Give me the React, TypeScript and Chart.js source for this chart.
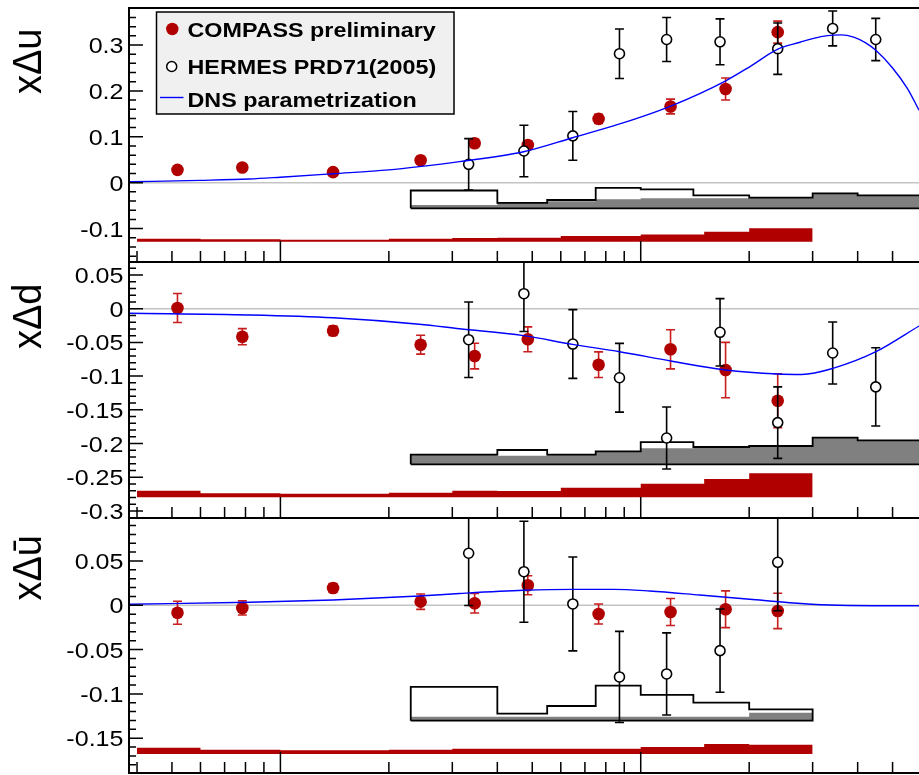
import React, { useEffect, useRef } from 'react';
import { Chart, registerables } from 'chart.js';

Chart.register(...registerables);

// ---------- axis ranges ----------
const X_MIN = 0.0038;
const X_MAX = 0.592;

// ---------- COMPASS (preliminary) ----------
const COMPASS_X = [0.00518, 0.00784, 0.014, 0.0245, 0.0346, 0.0486, 0.0764, 0.121, 0.172, 0.24];
const COMPASS_BINS = [0.004, 0.006, 0.01, 0.02, 0.03, 0.04, 0.06, 0.1, 0.15, 0.2, 0.3];

const COMPASS_U = [0.028, 0.033, 0.023, 0.049, 0.086, 0.082, 0.139, 0.166, 0.204, 0.328];
const COMPASS_U_ERR = [0.008, 0.008, 0.007, 0.008, 0.009, 0.009, 0.01, 0.016, 0.024, 0.024];
const COMPASS_U_SYS = [0.0065, 0.005, 0.0043, 0.0065, 0.008, 0.0087, 0.0124, 0.0157, 0.0217, 0.0292];
const COMPASS_U_SYS_BASE = -0.1285;

const COMPASS_D = [0.001, -0.0415, -0.0326, -0.0534, -0.0702, -0.0454, -0.0831, -0.0602, -0.091, -0.1365];
const COMPASS_D_ERR = [0.0215, 0.012, 0.007, 0.014, 0.019, 0.0185, 0.019, 0.029, 0.041, 0.04];
const COMPASS_D_SYS = [0.0098, 0.0059, 0.0053, 0.0068, 0.0098, 0.0093, 0.0142, 0.0202, 0.0271, 0.0356];
const COMPASS_D_SYS_BASE = -0.2798;

const COMPASS_UBAR = [-0.0084, -0.003, 0.0195, 0.0041, 0.0023, 0.0226, -0.0098, -0.0076, -0.0045, -0.0064];
const COMPASS_UBAR_ERR = [0.013, 0.008, 0.005, 0.0087, 0.011, 0.0107, 0.0113, 0.0152, 0.0207, 0.02];
const COMPASS_UBAR_SYS = [0.0071, 0.0048, 0.0041, 0.0048, 0.006, 0.006, 0.006, 0.0079, 0.0113, 0.0105];
const COMPASS_UBAR_SYS_BASE = -0.1678;

// ---------- HERMES PRD71(2005) ----------
const HERMES_X = [0.0333, 0.0474, 0.0648, 0.0873, 0.118, 0.166, 0.24, 0.341, 0.449];
const HERMES_BINS = [0.023, 0.04, 0.055, 0.075, 0.1, 0.14, 0.2, 0.3, 0.4, 0.6];

const HERMES_U = [0.04, 0.069, 0.102, 0.281, 0.312, 0.307, 0.292, 0.336, 0.312];
const HERMES_U_ERR = [0.056, 0.056, 0.053, 0.054, 0.048, 0.05, 0.056, 0.038, 0.046];
const HERMES_U_SYS_TOTAL = [0.0388, 0.0118, 0.0181, 0.0443, 0.0414, 0.0283, 0.0231, 0.0327, 0.0283];
const HERMES_U_SYS_PART = [0.0072, 0.0118, 0.0153, 0.0196, 0.0218, 0.0218, 0.0231, 0.0327, 0.0283];
const HERMES_U_SYS_BASE = -0.0558;

const HERMES_D = [-0.046, 0.0223, -0.0524, -0.1024, -0.1918, -0.035, -0.169, -0.0657, -0.116];
const HERMES_D_ERR = [0.056, 0.056, 0.051, 0.051, 0.046, 0.05, 0.053, 0.046, 0.058];
const HERMES_D_SYS_TOTAL = [0.0143, 0.0213, 0.0143, 0.0193, 0.0331, 0.0257, 0.0272, 0.0395, 0.0356];
const HERMES_D_SYS_PART = [0.0143, 0.0128, 0.0143, 0.0193, 0.0238, 0.0257, 0.0272, 0.0395, 0.0356];
const HERMES_D_SYS_BASE = -0.2309;

const HERMES_UBAR_X = [0.0333, 0.0474, 0.0648, 0.0873, 0.118, 0.166, 0.24];
const HERMES_UBAR = [0.0587, 0.0379, 0.0015, -0.0809, -0.0775, -0.0512, 0.0485];
const HERMES_UBAR_ERR = [0.059, 0.057, 0.053, 0.0514, 0.0463, 0.047, 0.0546];
const HERMES_UBAR_SYS_TOTAL = [0.038, 0.0078, 0.0165, 0.0395, 0.029, 0.0203, 0.0128];
const HERMES_UBAR_SYS_PART = [0.0045, 0.0045, 0.0045, 0.0045, 0.0045, 0.0045, 0.009];
const HERMES_UBAR_SYS_BASE = -0.1302;

// ---------- DNS parametrization ----------
const DNS_U_X = [0.0038, 0.006, 0.0082, 0.01, 0.014, 0.02, 0.0243, 0.0314, 0.0473, 0.0647, 0.0874, 0.1212, 0.1722, 0.201, 0.2402, 0.277, 0.3, 0.33, 0.36, 0.39, 0.42, 0.45, 0.5, 0.55, 0.592];
const DNS_U = [0.002, 0.005, 0.008, 0.012, 0.0196, 0.028, 0.035, 0.046, 0.0675, 0.098, 0.128, 0.167, 0.222, 0.253, 0.291, 0.306, 0.314, 0.3205, 0.322, 0.317, 0.305, 0.288, 0.25, 0.205, 0.158];

const DNS_D_X = [0.0038, 0.0082, 0.014, 0.0243, 0.0314, 0.0473, 0.0647, 0.0874, 0.1212, 0.1722, 0.2402, 0.28, 0.3415, 0.4497, 0.592];
const DNS_D = [-0.0068, -0.0093, -0.0135, -0.023, -0.0297, -0.04, -0.0529, -0.0638, -0.0776, -0.091, -0.0969, -0.0975, -0.0885, -0.0638, -0.0257];

const DNS_UBAR_X = [0.0038, 0.0082, 0.014, 0.0243, 0.0314, 0.0473, 0.0647, 0.0841, 0.1059, 0.1458, 0.201, 0.259, 0.335, 0.45, 0.592];
const DNS_UBAR = [0.0011, 0.0034, 0.006, 0.0105, 0.0133, 0.0169, 0.018, 0.018, 0.0161, 0.0116, 0.0068, 0.0029, 0.0003, -0.0005, -0.0006];

// ---------- tick labels ----------
const Y_TICKS_U = [-0.1, 0, 0.1, 0.2, 0.3];
const Y_TICKS_D = [-0.3, -0.25, -0.2, -0.15, -0.1, -0.05, 0, 0.05];
const Y_TICKS_UBAR = [-0.15, -0.1, -0.05, 0, 0.05];

const LABEL_COMPASS = 'COMPASS preliminary';
const LABEL_HERMES = 'HERMES PRD71(2005)';
const LABEL_DNS = 'DNS parametrization';

type Pt = { x: number; y: number };
const zip = (xs: number[], ys: number[]): Pt[] => xs.map((x, i) => ({ x, y: ys[i] }));
const stepFill = (edges: number[], heights: number[], base: number): Pt[] => {
  const pts: Pt[] = [{ x: edges[0], y: base }];
  heights.forEach((h, i) => pts.push({ x: edges[i], y: base + h }));
  pts.push({ x: edges[heights.length], y: base });
  return pts;
};
const stepOutline = (edges: number[], heights: number[], base: number): Pt[] => [
  ...stepFill(edges, heights, base),
  { x: edges[0], y: base },
];

const PANELS = [
  {
    top: 8, bottom: 262, yMin: -0.1728, yMax: 0.3806, yTicks: Y_TICKS_U, minorStep: 0.02,
    title: 'x\u0394u', titleEnd: 28.5, legend: true,
    cY: COMPASS_U, cErr: COMPASS_U_ERR, cSys: COMPASS_U_SYS, cBase: COMPASS_U_SYS_BASE,
    hX: HERMES_X, hY: HERMES_U, hErr: HERMES_U_ERR, hTot: HERMES_U_SYS_TOTAL, hPart: HERMES_U_SYS_PART, hBase: HERMES_U_SYS_BASE,
    dX: DNS_U_X, dY: DNS_U,
  },
  {
    top: 262, bottom: 518, yMin: -0.3105, yMax: 0.0693, yTicks: Y_TICKS_D, minorStep: 0.01,
    title: 'x\u0394d', titleEnd: 283.5, legend: false,
    cY: COMPASS_D, cErr: COMPASS_D_ERR, cSys: COMPASS_D_SYS, cBase: COMPASS_D_SYS_BASE,
    hX: HERMES_X, hY: HERMES_D, hErr: HERMES_D_ERR, hTot: HERMES_D_SYS_TOTAL, hPart: HERMES_D_SYS_PART, hBase: HERMES_D_SYS_BASE,
    dX: DNS_D_X, dY: DNS_D,
  },
  {
    top: 518, bottom: 773, yMin: -0.1893, yMax: 0.0985, yTicks: Y_TICKS_UBAR, minorStep: 0.01,
    title: 'x\u0394\u016B', titleEnd: 535, legend: false,
    cY: COMPASS_UBAR, cErr: COMPASS_UBAR_ERR, cSys: COMPASS_UBAR_SYS, cBase: COMPASS_UBAR_SYS_BASE,
    hX: HERMES_UBAR_X, hY: HERMES_UBAR, hErr: HERMES_UBAR_ERR, hTot: HERMES_UBAR_SYS_TOTAL, hPart: HERMES_UBAR_SYS_PART, hBase: HERMES_UBAR_SYS_BASE,
    dX: DNS_UBAR_X, dY: DNS_UBAR,
  },
];

const FONT = '"Liberation Sans", Arial, Helvetica, sans-serif';

function stretchedText(ctx: CanvasRenderingContext2D, text: string, x: number, y: number, sx: number, align: CanvasTextAlign) {
  ctx.save();
  ctx.translate(x, y);
  ctx.scale(sx, 1);
  ctx.textAlign = align;
  ctx.textBaseline = 'alphabetic';
  ctx.fillText(text, 0, 0);
  ctx.restore();
}

const errorBars = {
  id: 'errorBars',
  beforeDatasetDraw(chart: any, args: any) {
    const ds = chart.data.datasets[args.index];
    if (!ds.errors) return;
    const ctx: CanvasRenderingContext2D = chart.ctx;
    const a = chart.chartArea;
    const ys = chart.scales.y;
    ctx.save();
    ctx.beginPath();
    ctx.rect(a.left, a.top, a.right - a.left, a.bottom - a.top);
    ctx.clip();
    ctx.strokeStyle = ds.errorColor;
    ctx.lineWidth = 1.6;
    args.meta.data.forEach((pt: any, i: number) => {
      const v = ds.data[i].y;
      const e = ds.errors[i];
      const y1 = ys.getPixelForValue(v + e);
      const y2 = ys.getPixelForValue(v - e);
      const x = pt.x;
      ctx.beginPath();
      ctx.moveTo(x, y1);
      ctx.lineTo(x, y2);
      ctx.moveTo(x - 4.5, y1);
      ctx.lineTo(x + 4.5, y1);
      ctx.moveTo(x - 4.5, y2);
      ctx.lineTo(x + 4.5, y2);
      ctx.stroke();
    });
    ctx.restore();
  },
};

function decoration(p: any) {
  return {
    id: 'decoration',
    beforeDatasetsDraw(chart: any) {
      const ctx: CanvasRenderingContext2D = chart.ctx;
      const a = chart.chartArea;
      const y0 = chart.scales.y.getPixelForValue(0);
      ctx.save();
      ctx.strokeStyle = '#c4c4c4';
      ctx.lineWidth = 1.5;
      ctx.beginPath();
      ctx.moveTo(a.left, y0);
      ctx.lineTo(a.right, y0);
      ctx.stroke();
      ctx.restore();
    },
    afterDraw(chart: any) {
      const ctx: CanvasRenderingContext2D = chart.ctx;
      const a = chart.chartArea;
      const xs = chart.scales.x;
      const ys = chart.scales.y;
      ctx.save();
      // frame
      ctx.strokeStyle = '#000';
      ctx.lineWidth = 2;
      ctx.beginPath();
      ctx.moveTo(a.right + 2, a.top);
      ctx.lineTo(a.left, a.top);
      ctx.lineTo(a.left, a.bottom);
      ctx.lineTo(a.right + 2, a.bottom);
      ctx.stroke();
      // y ticks
      ctx.lineWidth = 1.5;
      ctx.beginPath();
      for (const v of p.yTicks) {
        const y = ys.getPixelForValue(v);
        ctx.moveTo(a.left, y);
        ctx.lineTo(a.left + 14, y);
      }
      const n0 = Math.ceil(p.yMin / p.minorStep - 1e-9);
      const n1 = Math.floor(p.yMax / p.minorStep + 1e-9);
      for (let n = n0; n <= n1; n++) {
        const v = n * p.minorStep;
        if (p.yTicks.some((t: number) => Math.abs(t - v) < 1e-9)) continue;
        const y = ys.getPixelForValue(v);
        ctx.moveTo(a.left, y);
        ctx.lineTo(a.left + 7, y);
      }
      // x ticks (log)
      for (const dec of [0.001, 0.01, 0.1]) {
        for (let k = 1; k <= 9; k++) {
          const v = k * dec;
          if (v < X_MIN || v > X_MAX) continue;
          const x = xs.getPixelForValue(v);
          ctx.moveTo(x, a.bottom);
          ctx.lineTo(x, a.bottom - (k === 1 ? 21 : 11));
        }
      }
      ctx.stroke();
      // tick labels
      ctx.fillStyle = '#000';
      ctx.font = `22px ${FONT}`;
      for (const v of p.yTicks) {
        stretchedText(ctx, v === 0 ? '0' : String(v), 123.5, ys.getPixelForValue(v) + 8, 1.14, 'right');
      }
      // axis title
      ctx.save();
      ctx.translate(40.5, p.titleEnd);
      ctx.rotate(-Math.PI / 2);
      ctx.scale(1, 1.08);
      ctx.font = `38px ${FONT}`;
      ctx.textAlign = 'right';
      ctx.textBaseline = 'alphabetic';
      ctx.fillText(p.title, 0, 0);
      ctx.restore();
      // legend
      if (p.legend) {
        const ds = chart.data.datasets;
        ctx.fillStyle = '#f0f0f0';
        ctx.fillRect(156.5, 12, 297.5, 102);
        ctx.strokeStyle = '#000';
        ctx.lineWidth = 1.5;
        ctx.strokeRect(156.5, 12, 297.5, 102);
        ctx.fillStyle = '#b00000';
        ctx.beginPath();
        ctx.arc(172.3, 29, 6.2, 0, Math.PI * 2);
        ctx.fill();
        ctx.fillStyle = '#fff';
        ctx.strokeStyle = '#000';
        ctx.lineWidth = 1.5;
        ctx.beginPath();
        ctx.arc(171.7, 66.5, 5, 0, Math.PI * 2);
        ctx.fill();
        ctx.stroke();
        ctx.strokeStyle = '#0000ff';
        ctx.lineWidth = 1.4;
        ctx.beginPath();
        ctx.moveTo(160, 97.5);
        ctx.lineTo(183.5, 97.5);
        ctx.stroke();
        ctx.fillStyle = '#000';
        ctx.font = `bold 21px ${FONT}`;
        stretchedText(ctx, ds[2].label, 187.5, 36.5, 1.11, 'left');
        stretchedText(ctx, ds[1].label, 187.5, 73.5, 1.11, 'left');
        stretchedText(ctx, ds[0].label, 187.5, 106.5, 1.11, 'left');
      }
      ctx.restore();
    },
  };
}

function buildConfig(p: any): any {
  return {
    type: 'scatter',
    data: {
      datasets: [
        {
          type: 'line', label: LABEL_DNS, data: zip(p.dX, p.dY),
          borderColor: '#0000ff', borderWidth: 1.4, pointRadius: 0,
          cubicInterpolationMode: 'monotone', fill: false, order: 0,
        },
        {
          type: 'scatter', label: LABEL_HERMES, data: zip(p.hX, p.hY),
          errors: p.hErr, errorColor: '#000000',
          pointStyle: 'circle', pointRadius: 5, pointBackgroundColor: '#ffffff',
          pointBorderColor: '#000000', pointBorderWidth: 1.6, order: 1,
        },
        {
          type: 'scatter', label: LABEL_COMPASS, data: zip(COMPASS_X, p.cY),
          errors: p.cErr, errorColor: '#c81e1e',
          pointStyle: 'circle', pointRadius: 6.3, pointBackgroundColor: '#b00000',
          pointBorderColor: '#b00000', pointBorderWidth: 0, order: 2,
        },
        {
          type: 'line', label: 'HERMES syst. total', data: stepOutline(HERMES_BINS, p.hTot, p.hBase),
          borderColor: '#000000', borderWidth: 1.8, stepped: true, pointRadius: 0, fill: false, order: 3,
        },
        {
          type: 'line', label: 'HERMES syst.', data: stepFill(HERMES_BINS, p.hPart, p.hBase),
          borderColor: 'rgba(0,0,0,0)', borderWidth: 0, backgroundColor: '#808080',
          stepped: true, pointRadius: 0, fill: { value: p.hBase }, order: 4,
        },
        {
          type: 'line', label: 'COMPASS syst.', data: stepFill(COMPASS_BINS, p.cSys, p.cBase),
          borderColor: 'rgba(0,0,0,0)', borderWidth: 0, backgroundColor: '#b00000',
          stepped: true, pointRadius: 0, fill: { value: p.cBase }, order: 5,
        },
      ],
    },
    options: {
      animation: false,
      responsive: false,
      devicePixelRatio: 1,
      events: [],
      layout: { autoPadding: false, padding: { left: 129, right: 0, top: p.top, bottom: 775 - p.bottom } },
      scales: {
        x: { type: 'logarithmic', min: X_MIN, max: X_MAX, display: false },
        y: { type: 'linear', min: p.yMin, max: p.yMax, display: false },
      },
      plugins: { legend: { display: false }, tooltip: { enabled: false } },
    },
    plugins: [errorBars, decoration(p)],
  };
}

export default function App() {
  const r0 = useRef<HTMLCanvasElement>(null);
  const r1 = useRef<HTMLCanvasElement>(null);
  const r2 = useRef<HTMLCanvasElement>(null);
  const refs = [r0, r1, r2];
  useEffect(() => {
    const charts = PANELS.map((p, i) => new Chart(refs[i].current as HTMLCanvasElement, buildConfig(p)));
    return () => charts.forEach((c) => c.destroy());
  }, []);
  return (
    <div style={{ position: 'fixed', left: 0, top: 0, width: 919, height: 775, background: '#ffffff', overflow: 'hidden' }}>
      {PANELS.map((_, i) => (
        <canvas
          key={i}
          ref={refs[i]}
          width={919}
          height={775}
          style={{ position: 'absolute', left: 0, top: 0, width: 919, height: 775 }}
        />
      ))}
    </div>
  );
}
